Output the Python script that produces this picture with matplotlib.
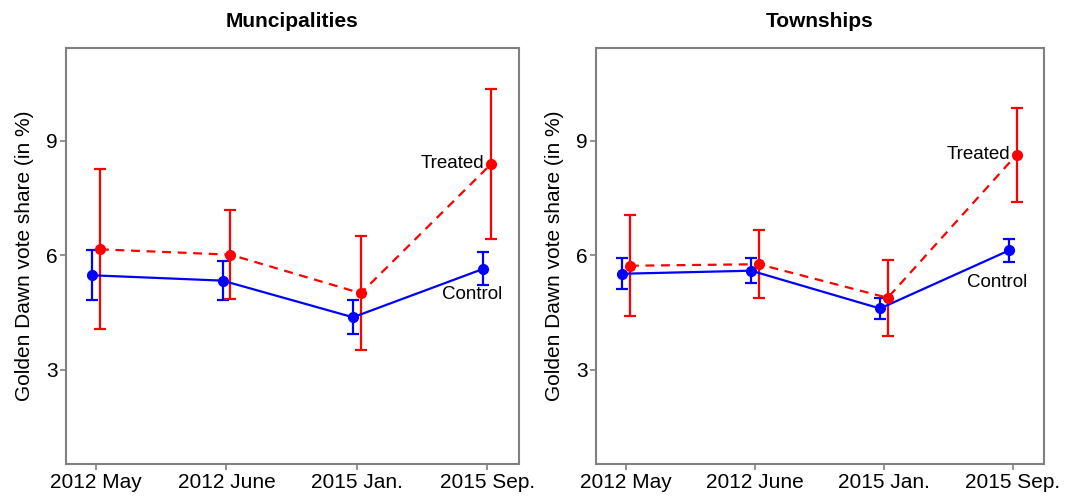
import matplotlib
matplotlib.use("Agg")
import matplotlib.pyplot as plt
import numpy as np

plt.rcParams["font.family"] = ["Liberation Sans", "DejaVu Sans"]

periods = ["2012 May", "2012 June", "2015 Jan.", "2015 Sep."]
panels = ["Muncipalities", "Townships"]

# municipalities
muni_control = [5.47, 5.33, 4.37, 5.64]
muni_control_lo = [4.83, 4.83, 3.94, 5.21]
muni_control_hi = [6.14, 5.84, 4.82, 6.09]
muni_treated = [6.15, 6.01, 5.00, 8.39]
muni_treated_lo = [4.05, 4.85, 3.50, 6.43]
muni_treated_hi = [8.26, 7.18, 6.51, 10.36]

# townships
town_control = [5.51, 5.59, 4.60, 6.12]
town_control_lo = [5.11, 5.27, 4.32, 5.83]
town_control_hi = [5.91, 5.91, 4.88, 6.43]
town_treated = [5.72, 5.76, 4.88, 8.63]
town_treated_lo = [4.40, 4.88, 3.88, 7.40]
town_treated_hi = [7.06, 6.66, 5.88, 9.86]

data = [
    (muni_control, muni_control_lo, muni_control_hi,
     muni_treated, muni_treated_lo, muni_treated_hi, 4.97),
    (town_control, town_control_lo, town_control_hi,
     town_treated, town_treated_lo, town_treated_hi, 5.29),
]

fig = plt.figure(figsize=(10.65, 4.97), dpi=100)
axes = [
    fig.add_axes([0.062, 0.066, 0.425, 0.837]),
    fig.add_axes([0.560, 0.066, 0.420, 0.837]),
]

x = np.arange(1, len(periods) + 1)
dodge = 0.03
frame = "#808080"

for ax, title, (c, clo, chi, t, tlo, thi, ctrl_y) in zip(axes, panels, data):
    c = np.array(c)
    t = np.array(t)
    ax.errorbar(x - dodge, c, yerr=[c - np.array(clo), np.array(chi) - c],
                color="#0000FF", lw=1.6, marker="o", ms=7, capsize=4.5,
                capthick=1.6, elinewidth=1.6, zorder=3)
    ax.errorbar(x + dodge, t, yerr=[t - np.array(tlo), np.array(thi) - t],
                color="#FF0000", lw=1.6, ls="--", dashes=(4, 3), marker="o",
                ms=7, capsize=4.5, capthick=1.6, elinewidth=1.6, zorder=3)

    ax.text(x[-1] - 0.02, t[-1], "Treated", ha="right", va="center",
            fontsize=13.5)
    ax.text(x[-1] - 0.12, ctrl_y, "Control", ha="center", va="center",
            fontsize=13.5)

    ax.set_xlim(0.77, 4.24)
    ax.set_ylim(0.52, 11.42)
    ax.set_xticks(x)
    ax.set_xticklabels(periods)
    ax.set_yticks([3, 6, 9])
    ax.set_ylabel("Golden Dawn vote share (in %)", fontsize=15, labelpad=9)
    ax.set_title(title, fontsize=15, fontweight="bold", pad=15)
    ax.tick_params(axis="both", labelsize=15, color=frame, length=4,
                   width=1.2, direction="out", pad=2)
    for s in ax.spines.values():
        s.set_color(frame)
        s.set_linewidth(1.5)

fig.savefig("out.png", dpi=100)
